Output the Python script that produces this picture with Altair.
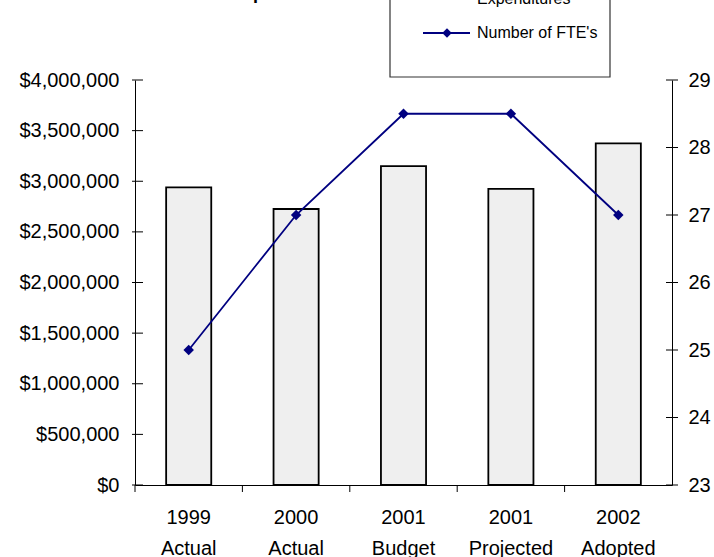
import altair as alt
import pandas as pd

FONT = "Liberation Sans"

categories = ["1999 Actual", "2000 Actual", "2001 Budget", "2001 Projected", "2002 Adopted"]
expenditures = [2940000, 2726000, 3150000, 2925000, 3375000]
ftes = [25, 27, 28.5, 28.5, 27]
left_ticks = [0, 500000, 1000000, 1500000, 2000000, 2500000, 3000000, 3500000, 4000000]
right_ticks = [23, 24, 25, 26, 27, 28, 29]

df = pd.DataFrame({"cat": categories, "exp": expenditures, "fte": ftes})
lt_df = pd.DataFrame({"v": left_ticks})
rt_df = pd.DataFrame({"v": right_ticks})
one = pd.DataFrame({"a": [0]})

x_scale = alt.Scale(paddingInner=0, paddingOuter=0)
y_left = alt.Scale(domain=[0, 4000000], nice=False)
y_right = alt.Scale(domain=[23, 29], nice=False, zero=False)

x_axis = alt.Axis(title=None, labelExpr="split(datum.label, ' ')", ticks=False,
                  labelAngle=0, labelFontSize=20, labelFont=FONT, labelColor="black",
                  labelPadding=22, labelLineHeight=31, domainColor="black",
                  domainWidth=1, grid=False)
yl_axis = alt.Axis(title=None, values=left_ticks, format="$,.0f", ticks=False,
                   labelPadding=16, labelFontSize=20, labelFont=FONT,
                   labelColor="black", grid=False, domainColor="black", domainWidth=1)
yr_axis = alt.Axis(title=None, orient="right", values=right_ticks, ticks=False,
                   labelPadding=16, labelFontSize=20, labelFont=FONT,
                   labelColor="black", grid=False, domainColor="black", domainWidth=1)

bars = alt.Chart(df).mark_bar(
    width=alt.RelativeBandSize(0.42), fill="#efefef", stroke="black", strokeWidth=1.8
).encode(
    x=alt.X("cat:N", sort=None, scale=x_scale, axis=x_axis),
    y=alt.Y("exp:Q", scale=y_left, axis=yl_axis),
)

x_ticks = alt.Chart(df).mark_rule(color="black", strokeWidth=1).encode(
    x=alt.X("cat:N", sort=None, scale=x_scale, bandPosition=0, axis=x_axis),
    y=alt.value(405), y2=alt.value(412),
)

left_tick_marks = alt.Chart(lt_df).mark_rule(color="black", strokeWidth=1).encode(
    y=alt.Y("v:Q", scale=y_left, axis=yl_axis),
    x=alt.value(-3), x2=alt.value(8),
)

line = alt.Chart(df).mark_line(
    color="#000080", strokeWidth=1.8,
    point=alt.OverlayMarkDef(shape="diamond", size=110, filled=True, color="#000080"),
).encode(
    x=alt.X("cat:N", sort=None, scale=x_scale, axis=x_axis),
    y=alt.Y("fte:Q", scale=y_right, axis=yr_axis),
)

right_tick_marks = alt.Chart(rt_df).mark_rule(color="black", strokeWidth=1).encode(
    y=alt.Y("v:Q", scale=y_right, axis=yr_axis),
    x=alt.value(531), x2=alt.value(543),
)

legend_box = alt.Chart(one).mark_rect(fill="white", stroke="#333333", strokeWidth=1.2).encode(
    x=alt.value(255), x2=alt.value(475), y=alt.value(-120), y2=alt.value(-3)
)
legend_line = alt.Chart(one).mark_rule(color="#000080", strokeWidth=1.8).encode(
    x=alt.value(288), x2=alt.value(335), y=alt.value(-47)
)
legend_pt = alt.Chart(one).mark_point(shape="diamond", size=90, filled=True, color="#000080", opacity=1).encode(
    x=alt.value(312), y=alt.value(-47)
)
legend_txt1 = alt.Chart(one).mark_text(
    text="Expenditures", font=FONT, fontSize=16, align="left", baseline="alphabetic", color="black"
).encode(x=alt.value(342), y=alt.value(-76))
legend_txt2 = alt.Chart(one).mark_text(
    text="Number of FTE's", font=FONT, fontSize=16, align="left", baseline="middle", color="black"
).encode(x=alt.value(342), y=alt.value(-47))

title = alt.Chart(one).mark_text(
    text="Expenditures", font=FONT, fontSize=18, fontWeight="bold", align="left",
    baseline="alphabetic", color="black"
).encode(x=alt.value(96), y=alt.value(-81))

chart = alt.layer(
    alt.layer(bars, x_ticks, left_tick_marks),
    alt.layer(line, right_tick_marks),
    title, legend_box, legend_line, legend_pt, legend_txt1, legend_txt2,
).resolve_scale(y="independent").properties(
    width=537, height=405,
    padding={"left": 135, "top": 80, "right": 42, "bottom": 72},
    autosize=alt.AutoSizeParams(type="none"),
    background="white",
).configure_view(strokeWidth=0)

chart.save("out.html", embed_options={"renderer": "svg", "actions": False})
